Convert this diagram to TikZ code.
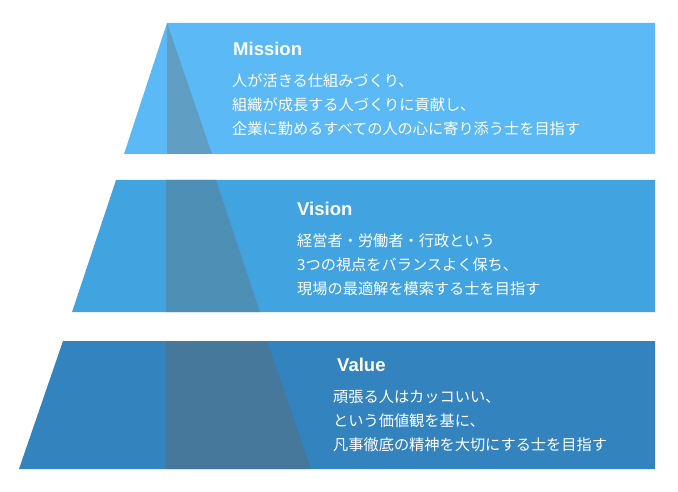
\documentclass[tikz,border=0pt]{standalone}
\usepackage{fontspec}
\setmainfont{Noto Sans CJK JP}
\newfontfamily\titlefont{Liberation Sans}
\usepackage{xcolor}
\definecolor{missionblue}{RGB}{91,185,246}
\definecolor{missionshade}{RGB}{96,158,196}
\definecolor{visionblue}{RGB}{66,163,225}
\definecolor{visionshade}{RGB}{78,143,181}
\definecolor{valueblue}{RGB}{50,131,190}
\definecolor{valueshade}{RGB}{69,120,155}
\newcommand{\BodyMission}{人が活きる仕組みづくり、\\組織が成長する人づくりに貢献し、\\企業に勤めるすべての人の心に寄り添う士を目指す}
\newcommand{\BodyVision}{経営者・労働者・行政という\\3つの視点をバランスよく保ち、\\現場の最適解を模索する士を目指す}
\newcommand{\BodyValue}{頑張る人はカッコいい、\\という価値観を基に、\\凡事徹底の精神を大切にする士を目指す}

\begin{document}
\begin{tikzpicture}[x=1pt,y=-1pt,
  tier title/.style={anchor=base west,inner sep=0pt,text=white,font=\titlefont\bfseries\fontsize{18.5}{22}\selectfont},
  tier body/.style={anchor=north west,inner sep=0pt,text=white,align=left,font=\fontsize{15.2}{24}\selectfont}]
  \useasboundingbox (0,0) rectangle (678,492);

  % Mission
  \fill[missionblue]  (167,23) -- (655,23) -- (655,154) -- (124,154) -- cycle;
  \fill[missionshade] (167,23) -- (212,154) -- (167,154) -- cycle;
  % Vision
  \fill[visionblue]   (116,180) -- (655,180) -- (655,312) -- (72,312) -- cycle;
  \fill[visionshade]  (166,180) -- (216,180) -- (260,312) -- (166,312) -- cycle;
  % Value
  \fill[valueblue]    (63,341) -- (655,341) -- (655,469) -- (19,469) -- cycle;
  \fill[valueshade]   (166,341) -- (267,341) -- (311,469) -- (166,469) -- cycle;

  \node[tier title] (MissionTitle) at (233,56)  {Mission};
  \node[tier body]  (MissionBody)  at (232,73)  {\BodyMission};
  \node[tier title] (VisionTitle)  at (297,215) {Vision};
  \node[tier body]  (VisionBody)   at (297,234) {\BodyVision};
  \node[tier title] (ValueTitle)   at (337,371) {Value};
  \node[tier body]  (ValueBody)    at (333,390) {\BodyValue};
\end{tikzpicture}
\end{document}
